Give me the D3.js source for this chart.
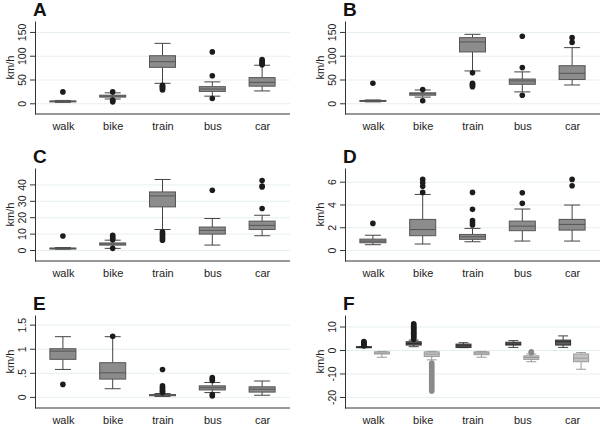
<!DOCTYPE html>
<html>
<head>
<meta charset="utf-8">
<script src="https://cdn.jsdelivr.net/npm/d3@7"></script>
<style>
  body { margin: 0; background: #fff; }
  text { font-family: "Liberation Sans", Arial, Helvetica, sans-serif; }
</style>
</head>
<body>
<div id="chart"></div>
<script>
var modes = ["walk", "bike", "train", "bus", "car"];

// box stats per mode: [low whisker, q1, median, q3, high whisker]
var boxA = [[2, 3, 4, 5, 6], [9, 13, 15, 17, 22], [42, 75.6, 87.4, 100, 126], [15, 25, 30, 35, 45], [26, 36, 44, 54, 80]];
var outA = [[24], [24, 3, 5, 7], [38, 36, 34, 32, 30, 28], [108, 58, 10], [92, 89, 86, 83, 81]];
var boxB = [[3, 4.5, 5.5, 6, 7], [13, 17, 20, 22, 28], [68, 108, 129, 138, 145], [24, 40, 47, 51, 66], [38.5, 50, 63, 79, 117]];
var outB = [[42], [29, 5.5], [64, 42, 40, 38, 35], [141, 75, 17], [138, 128]];
var boxC = [[0.5, 0.8, 1, 1.2, 1.5], [1, 3, 3.6, 4.3, 6], [12.5, 26.3, 33, 35.4, 43], [3, 9.7, 12, 14, 19.2], [8.7, 12.5, 15, 17.6, 21.2]];
var outC = [[8.5], [9, 8, 7, 6.3, 1], [11, 10, 9, 8, 7, 6], [36.4], [42.4, 39, 38.4, 25.3]];
var boxD = [[0.47, 0.64, 0.79, 0.96, 1.3], [0.53, 1.26, 1.8, 2.69, 4.88], [0.73, 0.94, 1.17, 1.37, 1.9], [0.79, 1.7, 2.1, 2.54, 3.6], [0.79, 1.75, 2.25, 2.69, 3.95]];
var outD = [[2.34], [6.2, 5.9, 5.6, 5.06], [5.06, 3.57, 2.6, 2.4, 2.2], [5.03, 4.1], [6.2, 5.64]];
var boxE = [[0.57, 0.78, 0.95, 1.0, 1.25], [0.17, 0.37, 0.5, 0.71, 1.25], [0.01, 0.025, 0.035, 0.05, 0.07], [0.09, 0.145, 0.19, 0.23, 0.3], [0.035, 0.1, 0.16, 0.21, 0.33]];
var outE = [[0.26], [1.26], [0.57, 0.23, 0.2, 0.17, 0.14, 0.11, 0.09], [0.4, 0.37, 0.34, 0.05, 0.02], []];
// panel F has two series per mode
var boxF1 = [[1, 1, 1.2, 1.4, 1.5], [1.4, 2.1, 2.8, 3.5, 4.2], [1, 1.1, 1.8, 2.5, 3.1], [1.1, 2.1, 2.5, 3.3, 4], [1.1, 2.1, 3.5, 4.2, 6]];
var outF1 = [[1.7, 2.1, 2.5, 2.9, 3.3, 3.6], [4.6, 5.1, 5.6, 6.1, 6.6, 7.1, 7.6, 8.1, 8.6, 9.1, 9.6, 10.1, 10.6, 11.1], [], [], []];
var boxF2 = [[-3.1, -1.7, -1.4, -0.8, -0.6], [-4.2, -2.8, -1.8, -0.8, -0.6], [-3.1, -2, -1.3, -0.8, -0.6], [-5, -4, -3.2, -2.5, -1.7], [-8.2, -5, -3.5, -1.7, -1.1]];
var outF2 = [[], [-5.6, -6.3, -7, -7.7, -8.4, -9.1, -9.8, -10.5, -11.2, -11.9, -12.6, -13.3, -14, -14.7, -15.4, -16.1, -16.8, -17.5], [], [-0.8, -1.2], []];

var ticksA = [0, 50, 100, 150], ticksC = [0, 10, 20, 30, 40], ticksD = [0, 2, 4, 6];
var ticksE = [0, 0.5, 1, 1.5], ticksF = [-20, -10, 0, 10];
var domAB = [-22.5, 173], domC = [-6.7, 50], domD = [-0.96, 7.2], domE = [-0.23, 1.70], domF = [-24.7, 14.9];

var panels = [
  {id: "A", series: [{box: boxA, out: outA}], ticks: ticksA, dom: domAB},
  {id: "B", series: [{box: boxB, out: outB}], ticks: ticksA, dom: domAB},
  {id: "C", series: [{box: boxC, out: outC}], ticks: ticksC, dom: domC},
  {id: "D", series: [{box: boxD, out: outD}], ticks: ticksD, dom: domD},
  {id: "E", series: [{box: boxE, out: outE}], ticks: ticksE, dom: domE},
  {id: "F", series: [{box: boxF1, out: outF1, dark: true}, {box: boxF2, out: outF2, light: true}], ticks: ticksF, dom: domF}
];

var W = 600, H = 425;
var svg = d3.select("#chart").append("svg").attr("width", W).attr("height", H);

var axX = 35, plotW = 255, plotTop = 21, plotBottom = 114;

// stata style: .5 instead of 0.5
function fmtTick(d) { return String(d).replace(/^0\./, "."); }

panels.forEach(function(p, i) {
  var col = i % 2, row = Math.floor(i / 2);
  var g = svg.append("g").attr("transform", "translate(" + (col * 310) + "," + (row * 147) + ")");

  var x = d3.scalePoint().domain(modes).range([axX, axX + plotW]).padding(0.56);
  var y = d3.scaleLinear().domain(p.dom).range([plotBottom, plotTop]);

  // grid
  g.append("g")
    .attr("transform", "translate(" + axX + ",0)")
    .call(d3.axisLeft(y).tickValues(p.ticks).tickSize(-plotW).tickFormat(""))
    .call(function(s) {
      s.select(".domain").remove();
      s.selectAll("line").attr("stroke", "#e6eff0").attr("stroke-width", 1);
    });

  // y axis
  g.append("g")
    .attr("transform", "translate(" + axX + ",0)")
    .call(d3.axisLeft(y).tickValues(p.ticks).tickSize(5).tickSizeOuter(0).tickFormat(fmtTick))
    .call(function(s) {
      s.select(".domain").attr("stroke", "#333");
      s.selectAll(".tick line").attr("stroke", "#333");
      s.selectAll(".tick text")
        .attr("transform", "rotate(-90)")
        .attr("x", 0).attr("y", -9).attr("dy", 0)
        .attr("text-anchor", "middle")
        .attr("fill", "#222")
        .style("font-size", "10.5px");
    });

  // x axis
  g.append("g")
    .attr("transform", "translate(0," + plotBottom + ")")
    .call(d3.axisBottom(x).tickSize(0).tickSizeOuter(0))
    .call(function(s) {
      s.select(".domain").attr("d", "M" + axX + ",0H" + (axX + plotW)).attr("stroke", "#333");
      s.selectAll(".tick text").attr("y", 15.5).attr("dy", 0).attr("fill", "#222").style("font-size", "11px");
    });

  // y label
  g.append("text")
    .attr("transform", "translate(10," + ((plotTop + plotBottom) / 2) + ") rotate(-90)")
    .attr("text-anchor", "middle")
    .attr("dominant-baseline", "central")
    .style("font-size", "11px")
    .attr("fill", "#222")
    .text("km/h");

  // panel letter
  g.append("text")
    .attr("x", 33).attr("y", 16)
    .style("font-size", "19px").style("font-weight", "bold")
    .attr("fill", "#111")
    .text(p.id);

  var two = p.series.length > 1;
  p.series.forEach(function(s, si) {
    var off = two ? (si === 0 ? -9 : 9) : 0;
    var bw = two ? 15 : 26, cw = two ? 10 : 16;
    var fill = s.dark ? "#5e5e5e" : s.light ? "#c2c2c2" : "#8c8c8c";
    var stroke = s.dark ? "#2e2e2e" : s.light ? "#9a9a9a" : "#555";
    var wcol = s.light ? "#9a9a9a" : "#444";
    var dotc = s.light ? "#8a8a8a" : "#1c1c1c";

    modes.forEach(function(m, mi) {
      var b = s.box[mi], cx = x(m) + off;
      var bg = g.append("g");
      // whiskers
      bg.append("line").attr("x1", cx).attr("x2", cx).attr("y1", y(b[0])).attr("y2", y(b[1])).attr("stroke", wcol);
      bg.append("line").attr("x1", cx).attr("x2", cx).attr("y1", y(b[3])).attr("y2", y(b[4])).attr("stroke", wcol);
      bg.append("line").attr("x1", cx - cw / 2).attr("x2", cx + cw / 2).attr("y1", y(b[0])).attr("y2", y(b[0])).attr("stroke", wcol);
      bg.append("line").attr("x1", cx - cw / 2).attr("x2", cx + cw / 2).attr("y1", y(b[4])).attr("y2", y(b[4])).attr("stroke", wcol);
      // box
      bg.append("rect")
        .attr("x", cx - bw / 2).attr("width", bw)
        .attr("y", y(b[3])).attr("height", Math.max(1, y(b[1]) - y(b[3])))
        .attr("fill", fill).attr("stroke", stroke);
      bg.append("line").attr("x1", cx - bw / 2).attr("x2", cx + bw / 2).attr("y1", y(b[2])).attr("y2", y(b[2])).attr("stroke", stroke);
      // outliers
      bg.selectAll("circle").data(s.out[mi]).enter().append("circle")
        .attr("cx", cx).attr("cy", function(d) { return y(d); })
        .attr("r", 2.8).attr("fill", dotc);
    });
  });
});
</script>
</body>
</html>
